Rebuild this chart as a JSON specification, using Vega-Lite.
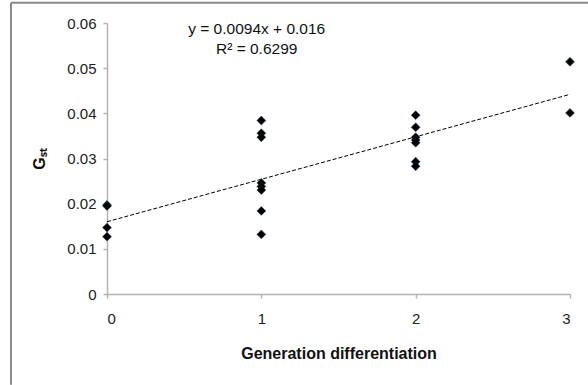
{
  "$schema": "https://vega.github.io/schema/vega-lite/v6.json",
  "autosize": "none",
  "width": 463,
  "height": 271,
  "padding": {"left": 107, "top": 23, "right": 18, "bottom": 91},
  "background": "white",
  "config": {
    "view": {"stroke": null},
    "font": "Liberation Sans",
    "axis": {
      "domainColor": "#b4b4b4",
      "domainWidth": 1.5,
      "tickColor": "#b4b4b4",
      "tickWidth": 1.5,
      "labelColor": "#222222",
      "labelFont": "Liberation Sans",
      "labelFontSize": 15,
      "titleFont": "Liberation Sans",
      "titleColor": "#111111",
      "titleFontSize": 16,
      "titleFontWeight": "bold",
      "grid": false,
      "tickSize": 4
    }
  },
  "datasets": {
    "points": [
      {"gen": 0, "gst": 0.0197},
      {"gen": 0, "gst": 0.0195},
      {"gen": 0, "gst": 0.0147},
      {"gen": 0, "gst": 0.0127},
      {"gen": 1, "gst": 0.0384},
      {"gen": 1, "gst": 0.0356},
      {"gen": 1, "gst": 0.0347},
      {"gen": 1, "gst": 0.0246},
      {"gen": 1, "gst": 0.0238},
      {"gen": 1, "gst": 0.0230},
      {"gen": 1, "gst": 0.0184},
      {"gen": 1, "gst": 0.0132},
      {"gen": 2, "gst": 0.0396},
      {"gen": 2, "gst": 0.0369},
      {"gen": 2, "gst": 0.0347},
      {"gen": 2, "gst": 0.0341},
      {"gen": 2, "gst": 0.0335},
      {"gen": 2, "gst": 0.0293},
      {"gen": 2, "gst": 0.0283},
      {"gen": 3, "gst": 0.0514},
      {"gen": 3, "gst": 0.0401}
    ],
    "trend": [
      {"gen": 0, "gst": 0.0160},
      {"gen": 3, "gst": 0.0442}
    ],
    "labels": [
      {"gen": 0.97, "gst": 0.0587, "label": "y = 0.0094x + 0.016"},
      {"gen": 0.97, "gst": 0.0543, "label": "R² = 0.6299"}
    ],
    "frame": [
      {"x0": -0.622, "x1": 3.2, "y0": -0.0201, "y1": 0.0645}
    ]
  },
  "layer": [
    {
      "data": {"name": "trend"},
      "mark": {"type": "line", "color": "#000000", "strokeWidth": 1, "strokeDash": [4, 2]},
      "encoding": {
        "x": {"field": "gen", "type": "quantitative", "scale": {"domain": [0, 3], "nice": false},
          "axis": {"values": [0, 1, 2, 3], "title": "Generation differentiation", "labelPadding": 13, "titlePadding": 19, "format": "d"}},
        "y": {"field": "gst", "type": "quantitative", "scale": {"domain": [0, 0.06], "nice": false},
          "axis": {"values": [0, 0.01, 0.02, 0.03, 0.04, 0.05, 0.06], "title": "Gₛₜ", "titleAngle": -90, "titlePadding": 19, "labelPadding": 7, "labelExpr": "datum.value == 0 ? '0' : format(datum.value, '.2f')", "titleFontSize": 16}}
      }
    },
    {
      "data": {"name": "points"},
      "mark": {"type": "point", "shape": "diamond", "filled": true, "size": 80, "color": "#000000", "stroke": "#1f3a5a", "strokeWidth": 0.5, "opacity": 1},
      "encoding": {
        "x": {"field": "gen", "type": "quantitative"},
        "y": {"field": "gst", "type": "quantitative"}
      }
    },
    {
      "data": {"name": "labels"},
      "mark": {"type": "text", "fontSize": 15.5, "color": "#111111", "font": "Liberation Sans", "align": "center", "baseline": "middle"},
      "encoding": {
        "x": {"field": "gen", "type": "quantitative"},
        "y": {"field": "gst", "type": "quantitative"},
        "text": {"field": "label"}
      }
    },
    {
      "data": {"name": "frame"},
      "mark": {"type": "rule", "color": "#8a8a8a", "strokeWidth": 2, "clip": false},
      "encoding": {
        "x": {"field": "x0", "type": "quantitative"},
        "y": {"field": "y0", "type": "quantitative"},
        "y2": {"field": "y1"}
      }
    },
    {
      "data": {"name": "frame"},
      "mark": {"type": "rule", "color": "#8a8a8a", "strokeWidth": 2, "clip": false},
      "encoding": {
        "y": {"field": "y1", "type": "quantitative"},
        "x": {"field": "x0", "type": "quantitative"},
        "x2": {"field": "x1"}
      }
    }
  ]
}
